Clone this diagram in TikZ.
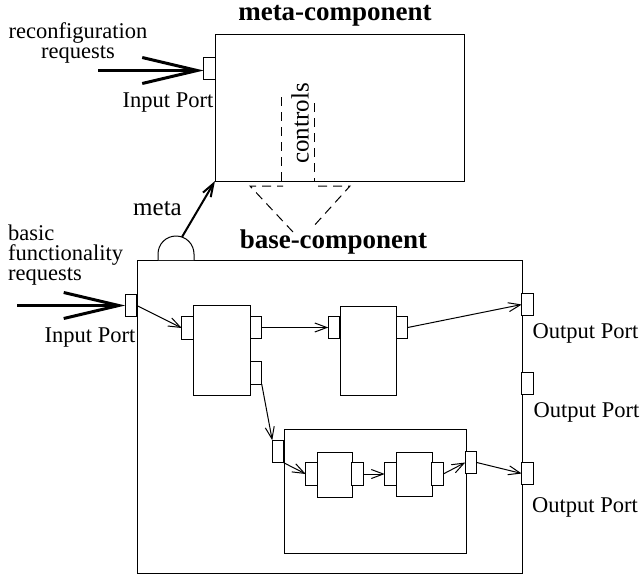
\documentclass[tikz,border=0pt]{standalone}
\usepackage{fontspec}
\setmainfont{Liberation Serif}
\usetikzlibrary{arrows.meta}
\begin{document}
\begin{tikzpicture}[x=1pt,y=-1pt,
  box/.style={draw, line width=0.9pt, inner sep=0pt, outer sep=0pt, fill=white},
  port/.style={draw, line width=1.2pt, inner sep=0pt, outer sep=0pt, fill=white, minimum width=11.5pt, minimum height=22.5pt},
  lbl/.style={inner sep=0pt, font=\fontsize{22.5}{20}\selectfont},
  ttl/.style={inner sep=0pt, font=\fontsize{27}{27}\selectfont\bfseries},
  flow/.style={line width=1pt, -{Straight Barb[length=12pt,width=9pt]}},
  bigflow/.style={line width=2.4pt, -{Straight Barb[length=55pt,width=26pt,line width=3pt]}},
  metaflow/.style={line width=2pt, -{Straight Barb[length=13pt,width=9pt]}},
  zoomline/.style={dash pattern=on 9pt off 6pt, line width=1pt}
]
\useasboundingbox (0,0) rectangle (641,579);

% meta-component
\node[box, minimum width=249pt, minimum height=147pt] (meta) at (339.5,107.5) {};
\node[port] (mip) at (209.5,68.5) {};
\node[ttl, anchor=base] (tmeta) at (335,20) {meta-component};
\node[lbl, align=center, anchor=base] (trq) at (78,58) {reconfiguration\\requests};
\node[lbl, anchor=base] (tmin) at (168,107) {Input Port};
\coordinate (rq) at (98,70.5);
\draw[bigflow] (rq) -- (rq -| mip.west);

% controls
\draw[zoomline] (281,97) -- (281,181);
\draw[zoomline] (314,103) -- (314,181);
\node[rotate=90, inner sep=0pt, font=\fontsize{25}{25}\selectfont] (ctl) at (300,123.5) {controls};
\draw[zoomline] (293,232) -- (250,186) -- (283,186);
\draw[zoomline] (318,186) -- (350,186) -- (312,228);

% base-component
\node[box, minimum width=385pt, minimum height=313pt] (base) at (329.5,416.5) {};
\node[ttl, anchor=base] (tbase) at (333.5,248) {base-component};
\draw[line width=1pt, fill=white] (158,260) -- (158,254) arc[start angle=180, end angle=0, radius=18pt] -- (194,260);
\coordinate (knob) at (182,237);
\node[inner sep=0pt, font=\fontsize{25}{25}\selectfont, anchor=base] (tmeta2) at (157.5,215) {meta};
\draw[metaflow] (knob) -- (meta.south west);

\node[port] (bip) at (131,305.5) {};
\node[lbl, align=left, anchor=base west] (tbf) at (8,280) {basic\\functionality\\requests};
\node[lbl, anchor=base] (tbin) at (90,342) {Input Port};
\coordinate (bf) at (17,305.5);
\draw[bigflow] (bf) -- (bip.west);

% component A
\node[box, minimum width=57pt, minimum height=90pt] (A) at (221.5,350) {};
\node[port] (ain) at (187.5,328) {};
\node[port] (aout1) at (256,327.5) {};
\node[port] (aout2) at (256,373) {};
% component B
\node[box, minimum width=56pt, minimum height=89pt] (B) at (368,350.5) {};
\node[port] (bin) at (334,327.5) {};
\node[port] (bout) at (402,327.5) {};

% output ports
\node[port] (out1) at (527.5,304.5) {};
\node[port] (out2) at (527.5,383.5) {};
\node[port] (out3) at (527.5,473.5) {};
\node[lbl, anchor=base] (to1) at (585.5,338) {Output Port};
\node[lbl, anchor=base] (to2) at (586.5,417) {Output Port};
\node[lbl, anchor=base] (to3) at (585,512) {Output Port};

% inner composite
\node[box, minimum width=182pt, minimum height=124pt] (inner) at (375,491) {};
\node[port] (iin) at (278,451.5) {};
\node[port] (iout) at (471,462.5) {};
\node[box, minimum width=35pt, minimum height=45pt] (C) at (334.5,474.5) {};
\node[port] (cin) at (311.5,474) {};
\node[port] (cout) at (357.5,474) {};
\node[box, minimum width=36pt, minimum height=44pt] (D) at (414,474) {};
\node[port] (din) at (390.5,474) {};
\node[port] (dout) at (437.5,474) {};

% flows
\draw[flow] (bip.east) -- (ain.west);
\draw[flow] (aout1.east) -- (bin.west);
\draw[flow] (bout.east) -- (out1.west);
\draw[flow] (aout2.south east) -- (iin.north west);
\draw[flow] (iin.south east) -- (cin.west);
\draw[flow] (cout.east) -- (din.west);
\draw[flow] (dout.east) -- (iout.west);
\draw[flow] (iout.east) -- (out3.west);
\end{tikzpicture}
\end{document}
